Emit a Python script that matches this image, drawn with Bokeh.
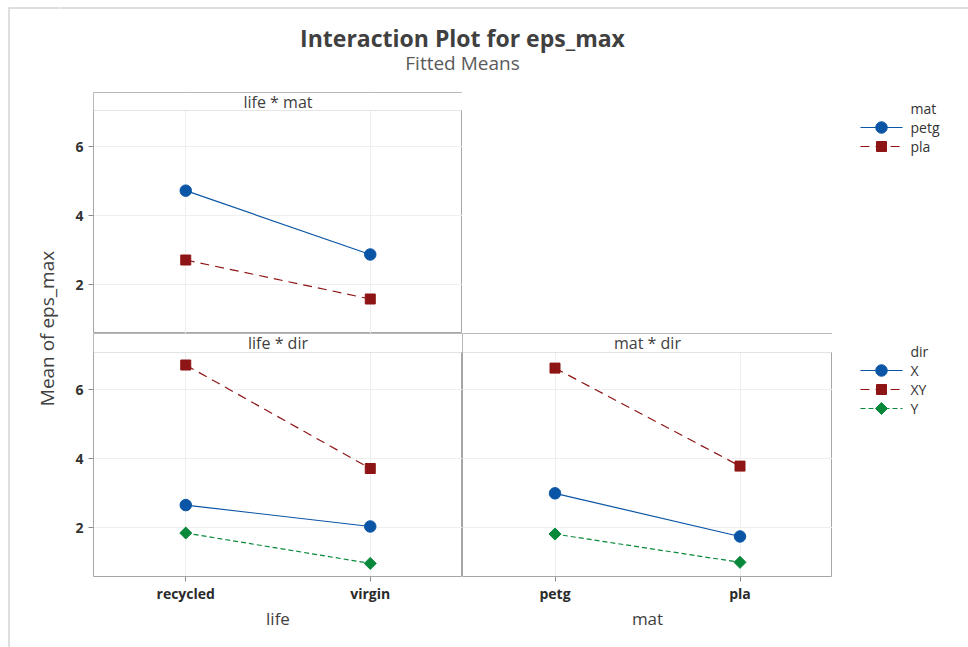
import numpy as np
from bokeh.plotting import figure
from bokeh.layouts import row, column
from bokeh.models import (Range1d, FactorRange, FixedTicker, CategoricalTicker, Grid,
                          BoxAnnotation, Label)
from bokeh.core.properties import value
from bokeh.embed import file_html
from bokeh.resources import INLINE

# ---------------- data ----------------
life_levels = ["recycled", "virgin"]
mat_levels = ["petg", "pla"]
dir_levels = ["X", "XY", "Y"]

# life * mat (series = mat)
life_mat_petg = [4.72, 2.87]
life_mat_pla = [2.71, 1.58]

# life * dir (series = dir)
life_dir_X = [2.65, 2.03]
life_dir_XY = [6.71, 3.71]
life_dir_Y = [1.84, 0.96]

# mat * dir (series = dir)
mat_dir_X = [2.99, 1.74]
mat_dir_XY = [6.62, 3.78]
mat_dir_Y = [1.81, 0.99]

y_ticks = [2, 4, 6]

title_text = "Interaction Plot for eps_max"
subtitle_text = "Fitted Means"
y_axis_label = "Mean of eps_max"
panel_titles = ["life * mat", "life * dir", "mat * dir"]
x_axis_labels = ["life", "mat"]
legend_titles = ["mat", "dir"]

# ---------------- styles ----------------
FONT = "Open Sans"
BLUE = "#0A55A5"
RED = "#8E1515"
GREEN = "#07883A"
OUTLINE = "#A6A6A6"
GRID = "#EFEFEF"
TEXT = "#333333"
BORDER = "#DEDEDE"

STY = [
    dict(color=BLUE, dash="solid", marker="circle", size=11.5, angle=0.0),
    dict(color=RED, dash="9 6", marker="square", size=10, angle=0.0),
    dict(color=GREEN, dash="5 3", marker="square", size=8.5, angle=np.pi / 4),
]

PX = 34.5   # pixels per y unit
Y0 = 0.58   # bottom of the plotting area


def panel(width, height, left, top, bottom, strip_h, factors, series, strip_text,
          xlabel=None, show_y=True):
    frame_h = height - top - bottom
    plot_h = frame_h - strip_h
    y_plot_top = Y0 + plot_h / PX
    y_end = Y0 + frame_h / PX
    p = figure(width=width, height=height,
               x_range=FactorRange(factors=factors, range_padding=0),
               y_range=Range1d(Y0, y_end),
               x_axis_location="below" if xlabel else None,
               y_axis_location="left" if show_y else None,
               toolbar_location=None, output_backend="svg",
               min_border=0, min_border_left=left, min_border_right=0,
               min_border_top=top, min_border_bottom=bottom,
               background_fill_color="white", border_fill_color="white",
               outline_line_color=OUTLINE, outline_line_width=1)
    p.center = [r for r in p.center if not isinstance(r, Grid)]
    p.add_layout(Grid(dimension=0, ticker=CategoricalTicker(), grid_line_color=GRID), "center")
    p.add_layout(Grid(dimension=1, ticker=FixedTicker(ticks=y_ticks), grid_line_color=GRID), "center")

    if show_y:
        ya = p.yaxis[0]
        ya.ticker = FixedTicker(ticks=y_ticks)
        ya.axis_line_color = None
        ya.major_tick_line_color = "#8C8C8C"
        ya.major_tick_out = 5
        ya.major_tick_in = 0
        ya.minor_tick_line_color = None
        ya.major_label_text_font = FONT
        ya.major_label_text_font_size = "14px"
        ya.major_label_text_font_style = "bold"
        ya.major_label_text_color = "#333333"
        ya.major_label_standoff = 5
    if xlabel:
        xa = p.xaxis[0]
        xa.axis_line_color = None
        xa.major_tick_line_color = "#8C8C8C"
        xa.major_tick_out = 5
        xa.major_tick_in = 0
        xa.major_label_text_font = FONT
        xa.major_label_text_font_size = "14px"
        xa.major_label_text_font_style = "bold"
        xa.major_label_text_color = "#2A2A2A"
        xa.major_label_standoff = 2
        xa.axis_label = xlabel
        xa.axis_label_text_font = FONT
        xa.axis_label_text_font_size = "17px"
        xa.axis_label_text_font_style = "normal"
        xa.axis_label_text_color = "#404040"
        xa.axis_label_standoff = 1

    for ys, st in series:
        p.line(x=factors, y=ys, line_color=st["color"], line_width=1.2, line_dash=st["dash"])
        p.scatter(x=factors, y=ys, marker=st["marker"], size=st["size"], angle=st["angle"],
                  fill_color=st["color"], line_color=st["color"], line_width=1)

    p.add_layout(BoxAnnotation(bottom=y_plot_top, fill_color="white", fill_alpha=1.0,
                               line_color=OUTLINE, line_width=1))
    p.add_layout(Label(x=len(factors) / 2, y=(y_plot_top + y_end) / 2, text=strip_text,
                       text_align="center", text_baseline="middle", text_font=FONT,
                       text_font_size="16px", text_color="#404040"))
    return p


def canvas(width, height, top=0, bottom=0):
    # pixel-mapped canvas: data y == pixel row inside the figure
    p = figure(width=width, height=height, x_range=Range1d(0, width),
               y_range=Range1d(height - bottom, top),
               toolbar_location=None, output_backend="svg", min_border=0,
               min_border_top=top, min_border_bottom=bottom,
               x_axis_location=None, y_axis_location=None, outline_line_color=None,
               background_fill_color="white", border_fill_color="white")
    p.center = [r for r in p.center if not isinstance(r, Grid)]
    return p


def legend_fig(width, height, top, bottom, title, labels, styles, x0, y0):
    p = canvas(width, height, top, bottom)
    step = 19
    p.text(x=[x0 + 50], y=[y0], text=[title], text_font=value(FONT), text_font_size="14px",
           text_color=TEXT, text_baseline="middle", text_align="left")
    for i, (lab, st) in enumerate(zip(labels, styles)):
        y = y0 + step * (i + 1)
        p.line(x=[x0, x0 + 42], y=[y, y], line_color=st["color"], line_width=1.2,
               line_dash=st["dash"])
        p.scatter(x=[x0 + 21], y=[y], marker=st["marker"], size=st["size"], angle=st["angle"],
                  fill_color=st["color"], line_color=st["color"])
        p.text(x=[x0 + 50], y=[y], text=[lab], text_font=value(FONT), text_font_size="14px",
               text_color=TEXT, text_baseline="middle", text_align="left")
    return p


# ---------------- figures ----------------
# left strip with y-axis label and page border
left = canvas(60, 647)
left.line(x=[8.5, 8.5], y=[7, 647], line_color=BORDER, line_width=2)
left.line(x=[8, 60], y=[7.5, 7.5], line_color=BORDER, line_width=2)
left.text(x=[46], y=[328], text=[y_axis_label], angle=np.pi / 2, text_font=value(FONT),
          text_font_size="19px", text_color="#404040", text_align="center",
          text_baseline="middle")

# title
title_f = canvas(908, 85)
title_f.line(x=[0, 908], y=[7.5, 7.5], line_color=BORDER, line_width=2)
title_f.text(x=[402], y=[37], text=[title_text], text_font=value(FONT), text_font_size="23px",
             text_font_style="bold", text_color="#404040", text_align="center",
             text_baseline="middle")
title_f.text(x=[402], y=[62], text=[subtitle_text], text_font=value(FONT),
             text_font_size="19px", text_color="#5A5A5A", text_align="center",
             text_baseline="middle")

tl = panel(402, 248, 33, 7, 0, 18, life_levels,
           [(life_mat_petg, STY[0]), (life_mat_pla, STY[1])], panel_titles[0])
bl = panel(402, 314, 33, 0, 71, 19, life_levels,
           [(life_dir_X, STY[0]), (life_dir_XY, STY[1]), (life_dir_Y, STY[2])],
           panel_titles[1], xlabel=x_axis_labels[0])
br = panel(370, 314, 0, 0, 71, 19, mat_levels,
           [(mat_dir_X, STY[0]), (mat_dir_XY, STY[1]), (mat_dir_Y, STY[2])],
           panel_titles[2], xlabel=x_axis_labels[1], show_y=False)

leg_top = legend_fig(506, 248, 7, 0, legend_titles[0], mat_levels, STY[:2], 398, 23)
leg_bot = legend_fig(136, 314, 0, 71, legend_titles[1], dir_levels, STY, 28, 18)

layout = row(left, column(title_f, row(tl, leg_top), row(bl, br, leg_bot)))

with open("out.html", "w") as f:
    f.write(file_html(layout, INLINE))
